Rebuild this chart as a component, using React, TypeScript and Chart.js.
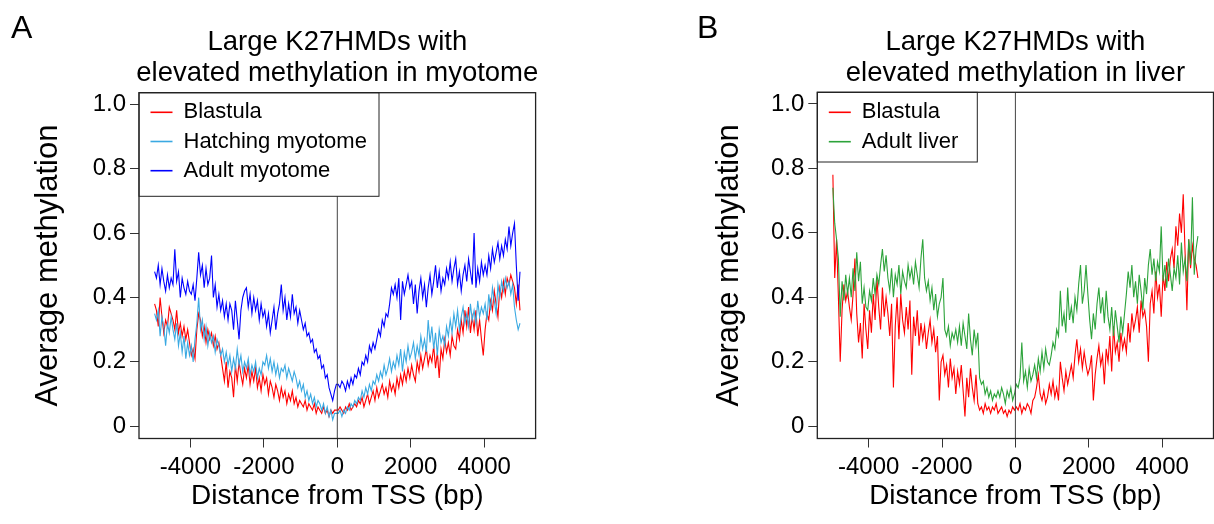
import React, { useEffect, useRef } from "react";
import { Chart, registerables } from "chart.js";

Chart.register(...registerables);

const FONT = '"Liberation Sans", Arial, Helvetica, sans-serif';

// 50 bp bins from -5000 to +5000 (bin centres)
const binStart = -4975;
const binWidth = 50;
const binCount = 200;
const binCenters = Array.from({ length: binCount }, (_, i) => binStart + i * binWidth);

const xTickValues = [-4000, -2000, 0, 2000, 4000];
const xTickLabels = ["-4000", "-2000", "0", "2000", "4000"];
const yTickValues = [0, 0.2, 0.4, 0.6, 0.8, 1.0];
const yTickLabels = ["0", "0.2", "0.4", "0.6", "0.8", "1.0"];

// ---------- Panel A: myotome ----------
const blastulaA = [
  0.38,0.36,0.31,0.40,0.34,0.29,0.33,0.31,0.37,0.35, 0.33,0.30,0.36,0.29,0.32,0.28,0.31,0.27,0.30,0.26,
  0.22,0.24,0.21,0.30,0.35,0.33,0.28,0.31,0.26,0.30, 0.27,0.29,0.25,0.28,0.24,0.26,0.22,0.18,0.14,0.20,
  0.12,0.17,0.15,0.09,0.19,0.14,0.20,0.16,0.13,0.18, 0.15,0.19,0.13,0.17,0.14,0.18,0.12,0.15,0.11,0.16,
  0.13,0.15,0.10,0.14,0.12,0.09,0.13,0.11,0.08,0.12, 0.09,0.11,0.07,0.10,0.08,0.11,0.07,0.09,0.06,0.08,
  0.07,0.06,0.08,0.05,0.07,0.06,0.05,0.07,0.04,0.06, 0.05,0.04,0.06,0.04,0.05,0.03,0.05,0.04,0.05,0.05,
  0.05,0.06,0.05,0.04,0.06,0.05,0.07,0.05,0.06,0.07, 0.06,0.08,0.07,0.09,0.06,0.08,0.10,0.07,0.09,0.11,
  0.08,0.12,0.09,0.11,0.13,0.10,0.12,0.09,0.14,0.11, 0.13,0.10,0.15,0.12,0.16,0.13,0.17,0.14,0.18,0.15,
  0.19,0.16,0.14,0.20,0.17,0.22,0.18,0.21,0.24,0.19, 0.22,0.20,0.25,0.18,0.23,0.15,0.24,0.21,0.27,0.23,
  0.26,0.22,0.28,0.25,0.24,0.30,0.27,0.33,0.29,0.36, 0.31,0.37,0.29,0.34,0.30,0.36,0.28,0.33,0.27,0.22,
  0.30,0.35,0.33,0.39,0.36,0.42,0.38,0.34,0.43,0.40, 0.45,0.41,0.46,0.44,0.47,0.45,0.43,0.38,0.44,0.36,
];

const hatchingMyotome = [
  0.35,0.33,0.36,0.28,0.34,0.31,0.25,0.32,0.29,0.34, 0.30,0.27,0.32,0.25,0.29,0.23,0.28,0.21,0.26,0.22,
  0.25,0.20,0.27,0.32,0.40,0.30,0.33,0.27,0.31,0.25, 0.29,0.26,0.28,0.23,0.27,0.25,0.22,0.24,0.20,0.23,
  0.19,0.22,0.17,0.21,0.18,0.24,0.19,0.22,0.17,0.20, 0.18,0.21,0.16,0.19,0.17,0.20,0.15,0.18,0.16,0.20,
  0.19,0.22,0.18,0.21,0.17,0.20,0.16,0.19,0.15,0.18, 0.17,0.19,0.15,0.18,0.16,0.14,0.17,0.15,0.12,0.14,
  0.11,0.13,0.09,0.11,0.08,0.10,0.07,0.09,0.06,0.08, 0.07,0.05,0.07,0.04,0.06,0.03,0.05,0.02,0.04,0.04,
  0.04,0.05,0.03,0.05,0.04,0.06,0.05,0.07,0.06,0.08, 0.07,0.09,0.08,0.11,0.09,0.12,0.10,0.13,0.11,0.14,
  0.13,0.16,0.14,0.17,0.15,0.19,0.16,0.18,0.21,0.17, 0.20,0.18,0.22,0.19,0.24,0.17,0.23,0.20,0.25,0.21,
  0.23,0.26,0.21,0.25,0.22,0.28,0.24,0.27,0.23,0.33, 0.26,0.31,0.24,0.29,0.22,0.30,0.26,0.28,0.25,0.31,
  0.28,0.33,0.29,0.35,0.31,0.36,0.30,0.34,0.37,0.32, 0.35,0.31,0.38,0.33,0.36,0.32,0.39,0.34,0.37,0.35,
  0.38,0.33,0.41,0.36,0.43,0.39,0.35,0.44,0.40,0.45, 0.42,0.46,0.43,0.45,0.41,0.44,0.37,0.33,0.30,0.32,
];

const adultMyotome = [
  0.48,0.46,0.50,0.44,0.49,0.45,0.42,0.47,0.43,0.46, 0.44,0.55,0.45,0.48,0.40,0.46,0.43,0.41,0.45,0.42,
  0.41,0.44,0.39,0.46,0.54,0.47,0.50,0.43,0.49,0.44, 0.46,0.53,0.40,0.44,0.37,0.41,0.36,0.39,0.34,0.38,
  0.33,0.38,0.36,0.30,0.39,0.33,0.27,0.36,0.40,0.42, 0.43,0.37,0.41,0.35,0.40,0.36,0.39,0.33,0.38,0.34,
  0.36,0.31,0.35,0.29,0.33,0.37,0.30,0.35,0.38,0.44, 0.36,0.40,0.33,0.38,0.34,0.41,0.35,0.37,0.32,0.36,
  0.33,0.30,0.32,0.28,0.29,0.26,0.27,0.23,0.24,0.21, 0.22,0.18,0.19,0.15,0.16,0.12,0.10,0.08,0.11,0.13,
  0.13,0.12,0.14,0.13,0.11,0.14,0.12,0.15,0.13,0.16, 0.15,0.18,0.16,0.20,0.19,0.22,0.20,0.25,0.23,0.26,
  0.24,0.27,0.30,0.28,0.33,0.31,0.35,0.34,0.38,0.43, 0.41,0.44,0.40,0.46,0.33,0.45,0.41,0.44,0.47,0.43,
  0.45,0.38,0.44,0.35,0.42,0.46,0.40,0.44,0.37,0.43, 0.47,0.41,0.45,0.50,0.43,0.48,0.42,0.46,0.44,0.49,
  0.46,0.51,0.45,0.49,0.52,0.44,0.48,0.42,0.47,0.50, 0.45,0.52,0.48,0.44,0.60,0.43,0.49,0.45,0.51,0.47,
  0.50,0.47,0.53,0.49,0.55,0.51,0.54,0.57,0.52,0.56, 0.53,0.58,0.55,0.62,0.56,0.60,0.63,0.50,0.39,0.48,
];

// ---------- Panel B: liver ----------
const blastulaB = [
  0.78,0.46,0.58,0.40,0.20,0.36,0.44,0.39,0.42,0.37, 0.33,0.41,0.52,0.35,0.26,0.32,0.21,0.38,0.30,0.24,
  0.36,0.29,0.41,0.33,0.46,0.37,0.30,0.43,0.34,0.40, 0.35,0.28,0.38,0.12,0.31,0.40,0.27,0.41,0.33,0.29,
  0.37,0.30,0.39,0.16,0.34,0.28,0.36,0.25,0.32,0.27, 0.31,0.24,0.29,0.33,0.26,0.30,0.23,0.28,0.08,0.20,
  0.22,0.16,0.19,0.12,0.21,0.15,0.18,0.10,0.17,0.13, 0.19,0.11,0.03,0.15,0.09,0.18,0.12,0.08,0.16,0.07,
  0.05,0.06,0.04,0.07,0.05,0.06,0.04,0.06,0.05,0.07, 0.04,0.05,0.06,0.04,0.05,0.03,0.05,0.04,0.06,0.05,
  0.06,0.05,0.07,0.04,0.06,0.05,0.07,0.06,0.04,0.08, 0.09,0.12,0.16,0.10,0.08,0.11,0.07,0.09,0.13,0.10,
  0.14,0.09,0.12,0.08,0.20,0.15,0.11,0.17,0.13,0.16, 0.19,0.15,0.22,0.27,0.20,0.24,0.18,0.23,0.19,0.16,
  0.18,0.22,0.08,0.16,0.21,0.25,0.19,0.22,0.13,0.24, 0.20,0.28,0.17,0.31,0.23,0.26,0.20,0.29,0.24,0.27,
  0.23,0.32,0.26,0.35,0.30,0.33,0.37,0.29,0.39,0.34, 0.36,0.31,0.20,0.38,0.42,0.35,0.48,0.40,0.44,0.34,
  0.47,0.42,0.51,0.45,0.52,0.55,0.49,0.62,0.56,0.66, 0.60,0.72,0.54,0.36,0.58,0.49,0.56,0.52,0.50,0.46,
];

const adultLiver = [
  0.74,0.63,0.58,0.52,0.34,0.45,0.39,0.47,0.41,0.46, 0.40,0.49,0.42,0.54,0.45,0.51,0.38,0.43,0.37,0.36,
  0.42,0.39,0.46,0.41,0.47,0.44,0.50,0.55,0.48,0.53, 0.46,0.42,0.49,0.40,0.47,0.44,0.50,0.41,0.48,0.45,
  0.43,0.50,0.46,0.49,0.44,0.51,0.47,0.43,0.52,0.58, 0.46,0.42,0.45,0.39,0.43,0.36,0.41,0.34,0.38,0.40,
  0.46,0.30,0.28,0.31,0.25,0.29,0.27,0.30,0.26,0.31, 0.25,0.32,0.28,0.24,0.35,0.27,0.22,0.30,0.25,0.29,
  0.15,0.13,0.14,0.10,0.12,0.09,0.11,0.08,0.10,0.09, 0.11,0.09,0.12,0.10,0.07,0.11,0.09,0.12,0.08,0.10,
  0.13,0.12,0.15,0.26,0.14,0.17,0.12,0.18,0.14,0.16, 0.19,0.15,0.21,0.17,0.23,0.18,0.24,0.20,0.19,0.22,
  0.26,0.24,0.30,0.28,0.42,0.31,0.35,0.29,0.43,0.33, 0.37,0.32,0.40,0.36,0.44,0.50,0.38,0.42,0.50,0.41,
  0.33,0.27,0.35,0.30,0.38,0.43,0.35,0.40,0.32,0.42, 0.34,0.30,0.37,0.28,0.36,0.31,0.26,0.34,0.29,0.35,
  0.41,0.48,0.43,0.50,0.40,0.45,0.38,0.47,0.42,0.36, 0.46,0.41,0.50,0.55,0.47,0.52,0.45,0.51,0.48,0.62,
  0.45,0.50,0.43,0.52,0.47,0.42,0.49,0.46,0.53,0.44, 0.57,0.48,0.52,0.45,0.58,0.50,0.71,0.47,0.55,0.59,
];

type Series = { label: string; color: string; values: number[]; order: number };
type Area = { left: number; right: number; top: number; bottom: number };
type PanelSpec = {
  id: string;
  letter: string;
  letterX: number;
  titleLines: string[];
  series: Series[];
  area: Area;
  yTitleCenter: number;
  legend: { width: number; height: number; firstRow: number; rowGap: number };
};

const CANVAS_W = 607;
const CANVAS_H = 524;

const panels: PanelSpec[] = [
  {
    id: "A",
    letter: "A",
    letterX: 11,
    titleLines: ["Large K27HMDs with", "elevated methylation in myotome"],
    series: [
      { label: "Blastula", color: "#ff0000", values: blastulaA, order: 2 },
      { label: "Hatching myotome", color: "#3aa9e2", values: hatchingMyotome, order: 1 },
      { label: "Adult myotome", color: "#0000ff", values: adultMyotome, order: 0 },
    ],
    area: { left: 139, right: 535.6, top: 92.7, bottom: 438.5 },
    yTitleCenter: 48,
    legend: { width: 240, height: 103.6, firstRow: 19.6, rowGap: 29.2 },
  },
  {
    id: "B",
    letter: "B",
    letterX: 90,
    titleLines: ["Large K27HMDs with", "elevated methylation in liver"],
    series: [
      { label: "Blastula", color: "#ff0000", values: blastulaB, order: 1 },
      { label: "Adult liver", color: "#2ca33a", values: adultLiver, order: 0 },
    ],
    area: { left: 210.3, right: 606.5, top: 92.3, bottom: 438.5 },
    yTitleCenter: 122,
    legend: { width: 160, height: 69.7, firstRow: 20, rowGap: 29.4 },
  },
];

function decorPlugin(spec: PanelSpec) {
  return {
    id: "decor" + spec.id,
    afterDatasetsDraw(chart: any) {
      const { ctx, chartArea: a, scales } = chart;
      ctx.save();
      // vertical line at TSS
      const x0 = scales.x.getPixelForValue(0);
      ctx.strokeStyle = "#444";
      ctx.lineWidth = 1;
      ctx.beginPath();
      ctx.moveTo(x0, a.top);
      ctx.lineTo(x0, a.bottom);
      ctx.stroke();
      // legend
      const lg = spec.legend;
      ctx.fillStyle = "#fff";
      ctx.fillRect(a.left, a.top, lg.width, lg.height);
      ctx.strokeStyle = "#222";
      ctx.lineWidth = 1;
      ctx.strokeRect(a.left, a.top, lg.width, lg.height);
      ctx.font = `22px ${FONT}`;
      ctx.textAlign = "left";
      ctx.textBaseline = "middle";
      spec.series.forEach((s, i) => {
        const y = a.top + lg.firstRow + i * lg.rowGap;
        ctx.strokeStyle = s.color;
        ctx.lineWidth = 1.6;
        ctx.beginPath();
        ctx.moveTo(a.left + 11.5, y);
        ctx.lineTo(a.left + 33.5, y);
        ctx.stroke();
        ctx.fillStyle = "#000";
        ctx.fillText(s.label, a.left + 44.5, y);
      });
      // plot box
      ctx.strokeStyle = "#222";
      ctx.lineWidth = 1.3;
      ctx.strokeRect(a.left, a.top, a.right - a.left, a.bottom - a.top);
      ctx.restore();
    },
    afterDraw(chart: any) {
      const { ctx, chartArea: a } = chart;
      ctx.save();
      ctx.fillStyle = "#000";
      ctx.textAlign = "center";
      ctx.textBaseline = "alphabetic";
      ctx.font = `27.5px ${FONT}`;
      const cx = (a.left + a.right) / 2;
      ctx.fillText(spec.titleLines[0], cx, 50);
      ctx.fillText(spec.titleLines[1], cx, 81);
      ctx.textAlign = "left";
      ctx.font = `32px ${FONT}`;
      ctx.fillText(spec.letter, spec.letterX, 37.5);
      ctx.restore();
    },
  };
}

function Panel({ spec, left }: { spec: PanelSpec; left: number }) {
  const ref = useRef<HTMLCanvasElement>(null);
  useEffect(() => {
    const a = spec.area;
    const yTitleLH = 31 * 1.2;
    const xTitleLH = 28 * 1.2;
    const chart = new Chart(ref.current as HTMLCanvasElement, {
      type: "line",
      data: {
        datasets: spec.series.map((s) => ({
          label: s.label,
          data: binCenters.map((x, i) => ({ x, y: s.values[i] })),
          borderColor: s.color,
          backgroundColor: s.color,
          borderWidth: 1.1,
          pointRadius: 0,
          tension: 0,
          fill: false,
          order: s.order,
        })),
      },
      options: {
        responsive: false,
        animation: false,
        devicePixelRatio: 1,
        layout: { padding: { left: 0, top: a.top, right: CANVAS_W - a.right, bottom: 0 } },
        plugins: { legend: { display: false }, tooltip: { enabled: false }, title: { display: false } },
        scales: {
          x: {
            type: "linear",
            min: -5400,
            max: 5400,
            afterBuildTicks: (s: any) => {
              s.ticks = xTickValues.map((v) => ({ value: v }));
            },
            afterFit: (s: any) => {
              s.height = CANVAS_H - a.bottom;
            },
            grid: { drawOnChartArea: false, drawTicks: true, tickLength: 9, color: "#333", lineWidth: 1 },
            border: { display: false },
            ticks: {
              callback: (_v: any, i: number) => xTickLabels[i],
              font: { family: FONT, size: 24 },
              color: "#000",
              padding: 5,
              maxRotation: 0,
              autoSkip: false,
            },
            title: {
              display: true,
              text: "Distance from TSS (bp)",
              font: { family: FONT, size: 28 },
              color: "#000",
              padding: { top: 0, bottom: CANVAS_H - 496 - xTitleLH / 2 },
            },
          },
          y: {
            type: "linear",
            min: -0.038,
            max: 1.036,
            afterBuildTicks: (s: any) => {
              s.ticks = yTickValues.map((v) => ({ value: v }));
            },
            afterFit: (s: any) => {
              s.width = a.left;
            },
            grid: { drawOnChartArea: false, drawTicks: true, tickLength: 9, color: "#333", lineWidth: 1 },
            border: { display: false },
            ticks: {
              callback: (_v: any, i: number) => yTickLabels[i],
              font: { family: FONT, size: 24 },
              color: "#000",
              padding: 4,
              autoSkip: false,
            },
            title: {
              display: true,
              text: "Average methylation",
              font: { family: FONT, size: 31 },
              color: "#000",
              padding: { top: spec.yTitleCenter - yTitleLH / 2, bottom: 0 },
            },
          },
        },
      } as any,
      plugins: [decorPlugin(spec)],
    });
    return () => chart.destroy();
  }, [spec]);
  return (
    <canvas
      ref={ref}
      width={CANVAS_W}
      height={CANVAS_H}
      style={{ position: "absolute", left, top: 0, width: CANVAS_W, height: CANVAS_H, display: "block" }}
    />
  );
}

export default function App() {
  return (
    <div style={{ position: "absolute", left: 0, top: 0, width: 1214, height: 524, background: "#fff", overflow: "hidden" }}>
      <Panel spec={panels[0]} left={0} />
      <Panel spec={panels[1]} left={607} />
    </div>
  );
}
